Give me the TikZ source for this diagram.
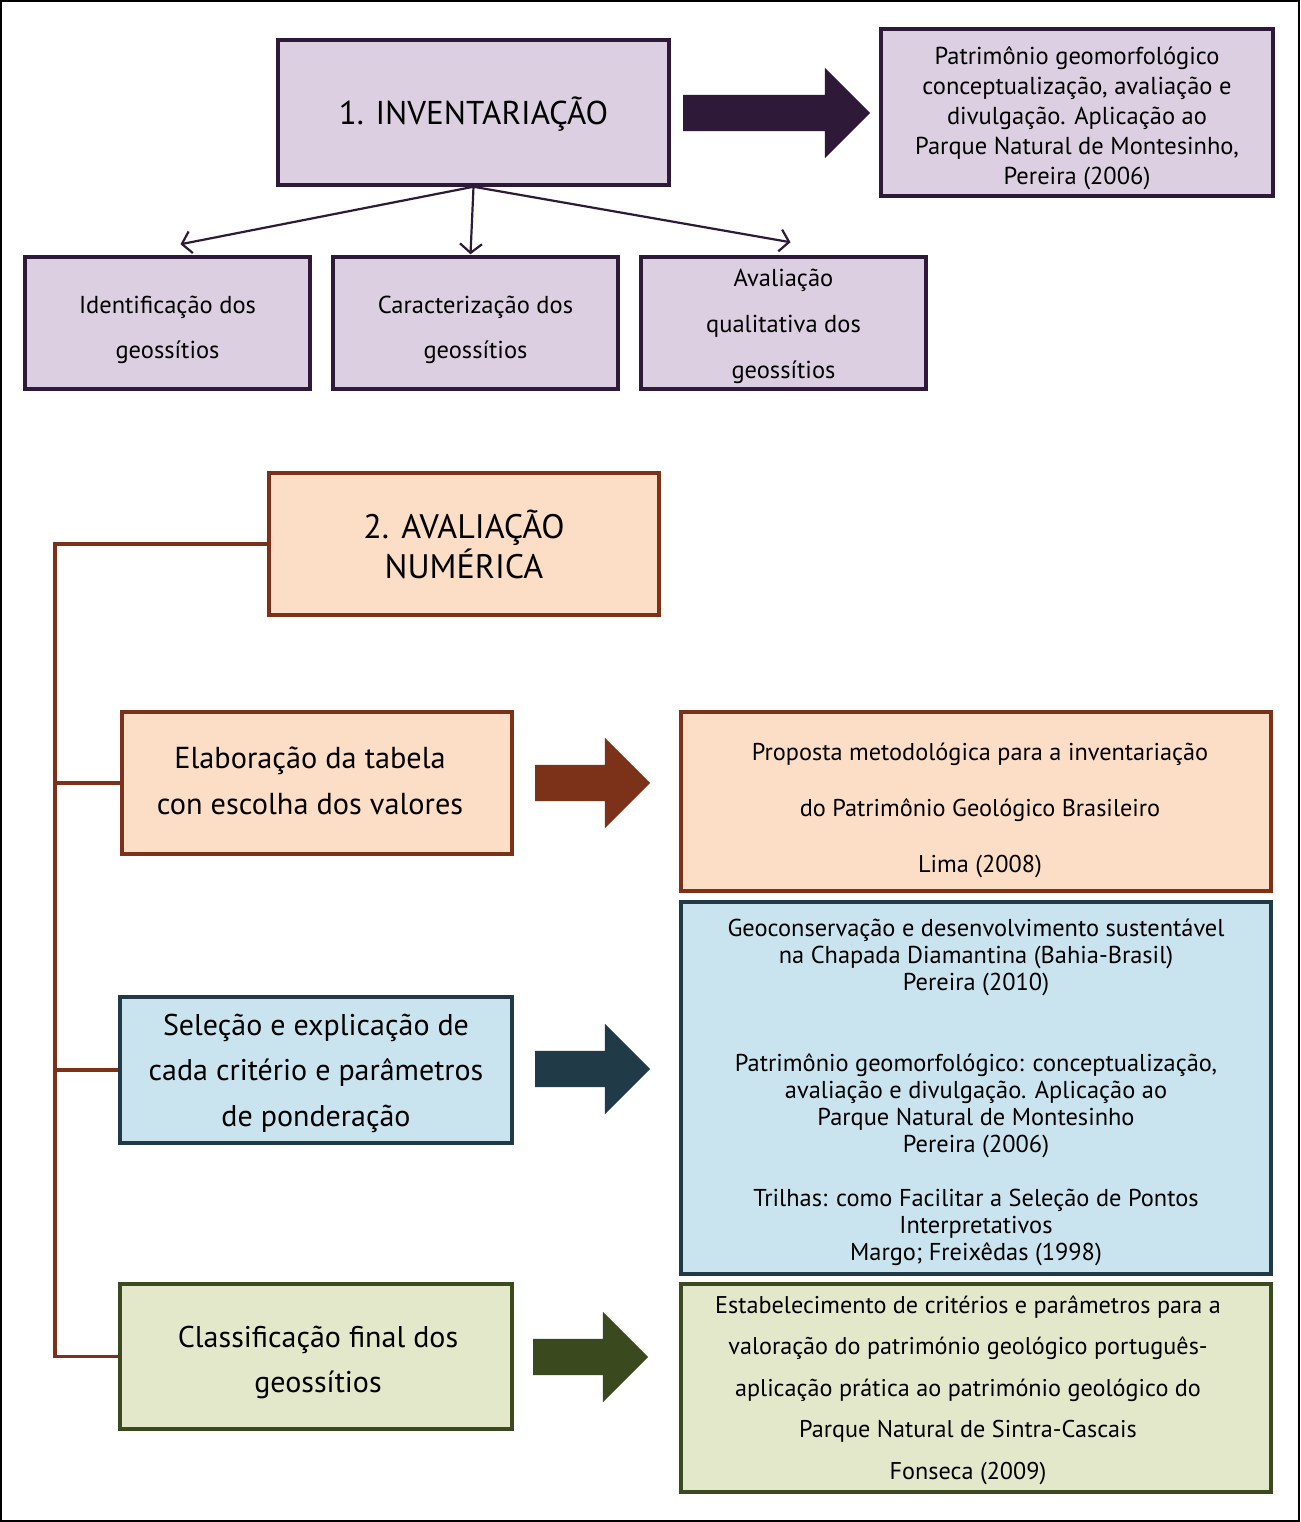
\documentclass[tikz,border=0pt]{standalone}
\usepackage{fontspec}
\setmainfont{PT Sans}
\usetikzlibrary{arrows.meta,shapes.arrows}
\definecolor{pfill}{HTML}{DDCFE2}
\definecolor{pline}{HTML}{2E1A38}
\definecolor{ofill}{HTML}{FCDDC5}
\definecolor{oline}{HTML}{7B3218}
\definecolor{bfill}{HTML}{C9E4EF}
\definecolor{bline}{HTML}{213A47}
\definecolor{gfill}{HTML}{E3E8CB}
\definecolor{gline}{HTML}{3B4A1E}
\newcommand\fsz[2]{\fontsize{#1}{#2}\selectfont}
\tikzset{
  box/.style={draw, line width=3.5, inner sep=0},
  pbox/.style={box, draw=pline, fill=pfill},
  obox/.style={box, draw=oline, fill=ofill},
  bbox/.style={box, draw=bline, fill=bfill},
  gbox/.style={box, draw=gline, fill=gfill},
  txt/.style={inner sep=0, align=center, text=black},
  blockarrow/.style={single arrow, draw=none, inner sep=0, outer sep=0,
    single arrow head extend=27, single arrow tip angle=90},
  thinarrow/.style={draw=pline, line width=2.2, -{Straight Barb[length=9,width=22,line width=2.2]}},
  bracket/.style={draw=oline, line width=3.5},
}
\newcommand\shaft{\rule{0pt}{36pt}}
\begin{document}
\begin{tikzpicture}[x=1pt,y=-1pt]
\useasboundingbox (0,0) rectangle (1300,1522);
\draw[black,line width=2] (1,1) rectangle (1299,1521);

% Section 1
\node[pbox, minimum width=391, minimum height=145] (inv) at (473.5,112.5) {};
\node[txt, font=\fsz{33}{36}] (inv-t) at ([shift={(0,2)}]inv.center) {1. INVENTARIAÇÃO};
\node[pbox, minimum width=392, minimum height=167] (pat) at (1077,112.5) {};
\node[txt, font=\fsz{24.5}{30}] (pat-t) at ([shift={(0,6)}]pat.center)
  {Patrimônio geomorfológico\\conceptualização, avaliação e\\divulgação. Aplicação ao\\Parque Natural de Montesinho,\\Pereira (2006)};
\node[blockarrow, fill=pline, minimum height=187] (a1) at (767.5,113) {\shaft};

\node[pbox, minimum width=285, minimum height=132] (ida) at (167.5,323) {};
\node[txt, font=\fsz{24.5}{45}] (ida-t) at ([shift={(0,7)}]ida.center) {Identificação dos\\geossítios};
\node[pbox, minimum width=285, minimum height=132] (idb) at (475.5,323) {};
\node[txt, font=\fsz{24.5}{45}] (idb-t) at ([shift={(0,7)}]idb.center) {Caracterização dos\\geossítios};
\node[pbox, minimum width=285, minimum height=132] (idc) at (783.5,323) {};
\node[txt, font=\fsz{24.5}{46}] (idc-t) at ([shift={(0,3)}]idc.center) {Avaliação\\qualitativa dos\\geossítios};

\draw[thinarrow] (inv.south) -- ([shift={(13,-11)}]ida.north);
\draw[thinarrow] (inv.south) -- ([shift={(-5,-1)}]idb.north);
\draw[thinarrow] (inv.south) -- ([shift={(7,-13)}]idc.north);

% Section 2
\node[obox, minimum width=390, minimum height=142] (avl) at (464,544) {};
\node[txt, font=\fsz{34}{40}] (avl-t) at (avl.center) {2. AVALIAÇÃO\\NUMÉRICA};

\node[obox, minimum width=390, minimum height=142] (elab) at (317,783) {};
\node[txt, font=\fsz{30.3}{46}] (elab-t) at ([shift={(-7,-2)}]elab.center) {Elaboração da tabela\\con escolha dos valores};
\node[bbox, minimum width=392, minimum height=146] (sel) at (316,1070) {};
\node[txt, font=\fsz{30}{45.5}] (sel-t) at ([shift={(0,3)}]sel.center) {Seleção e explicação de\\cada critério e parâmetros\\de ponderação};
\node[gbox, minimum width=392, minimum height=145] (cls) at (316,1356.5) {};
\node[txt, font=\fsz{30}{45}] (cls-t) at ([shift={(2,6)}]cls.center) {Classificação final dos\\geossítios};

\coordinate (bk) at (55,544);
\draw[bracket] (avl.west) -- (bk) |- (elab.west);
\draw[bracket] (bk) |- (sel.west);
\draw[bracket] (bk) |- (cls.west);

\node[obox, minimum width=590, minimum height=179] (lima) at (976,801.5) {};
\node[txt, font=\fsz{24.3}{56}] (lima-t) at ([shift={(4,9)}]lima.center)
  {Proposta metodológica para a inventariação\\do Patrimônio Geológico Brasileiro\\Lima (2008)};
\node[bbox, minimum width=590, minimum height=372] (refs) at (976,1088) {};
\node[txt, font=\fsz{24.4}{27}] (refs-t) at ([shift={(0,4)}]refs.center)
  {Geoconservação e desenvolvimento sustentável\\na Chapada Diamantina (Bahia-Brasil)\\Pereira (2010)\\[54pt]Patrimônio geomorfológico: conceptualização,\\avaliação e divulgação. Aplicação ao\\Parque Natural de Montesinho\\Pereira (2006)\\[27pt]Trilhas: como Facilitar a Seleção de Pontos\\Interpretativos\\Margo; Freixêdas (1998)};
\node[gbox, minimum width=590, minimum height=208] (fons) at (976,1388) {};
\node[txt, font=\fsz{24.2}{41.5}] (fons-t) at ([shift={(-8,2)}]fons.center)
  {Estabelecimento de critérios e parâmetros para a\\valoração do património geológico português-\\aplicação prática ao património geológico do\\Parque Natural de Sintra-Cascais\\Fonseca (2009)};

\node[blockarrow, fill=oline, minimum height=115] (a2) at (583.5,783) {\shaft};
\node[blockarrow, fill=bline, minimum height=115] (a3) at (583.5,1069) {\shaft};
\node[blockarrow, fill=gline, minimum height=115] (a4) at (581.5,1357) {\shaft};
\end{tikzpicture}
\end{document}
